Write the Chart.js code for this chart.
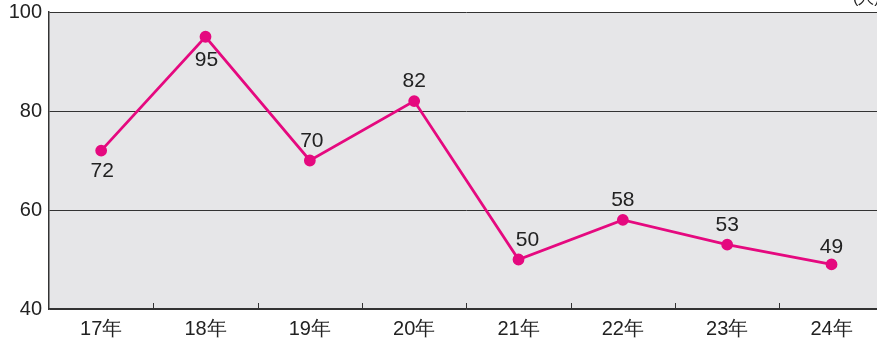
<!DOCTYPE html>
<html>
<head>
<meta charset="utf-8">
<script src="https://cdn.jsdelivr.net/npm/chart.js@4/dist/chart.umd.min.js"></script>
<style>
  html, body { margin: 0; padding: 0; background: #fff; overflow: hidden; }
  #wrap { width: 891px; height: 340px; }
</style>
</head>
<body>
<div id="wrap"><canvas id="grafico"></canvas></div>
<script>
const anos = ["17年", "18年", "19年", "20年", "21年", "22年", "23年", "24年"];
const valores = [72, 95, 70, 82, 50, 58, 53, 49];
// rótulo abaixo (true) ou acima (false) do ponto
const rotuloAbaixo = [true, true, false, false, false, false, false, false];
// ajuste fino dos rótulos [dx, dy]
const ajusteRotulo = [[1, 0], [1, 3], [2, 0], [0, 0], [9, 0], [0, 0], [0, 0], [0, 2]];
const ticksY = [40, 60, 80, 100];

const corLinha = "#e5097f";
const fonte = "'Liberation Sans', Arial, sans-serif";

// fundo cinza da área do gráfico
const fundoArea = {
    id: "fundoArea",
    beforeDraw(chart) {
        const { ctx, chartArea: a } = chart;
        ctx.save();
        ctx.fillStyle = "#e6e6e8";
        ctx.fillRect(a.left, a.top, a.right - a.left, a.bottom - a.top);
        ctx.restore();
    }
};

// pequenos traços entre as categorias, para dentro
const tracosX = {
    id: "tracosX",
    afterDraw(chart) {
        const { ctx, chartArea: a } = chart;
        const x = chart.scales.x;
        ctx.save();
        ctx.strokeStyle = "#333";
        ctx.lineWidth = 1;
        for (let i = 1; i < anos.length; i++) {
            const px = Math.round((x.getPixelForValue(i - 1) + x.getPixelForValue(i)) / 2) + 0.5;
            ctx.beginPath();
            ctx.moveTo(px, a.bottom);
            ctx.lineTo(px, a.bottom - 6);
            ctx.stroke();
        }
        // unidade no canto superior direito
        ctx.fillStyle = "#222";
        ctx.font = "16px " + fonte;
        ctx.textAlign = "left";
        ctx.textBaseline = "bottom";
        ctx.fillText("(人)", 853, 7);
        ctx.restore();
    }
};

// valores escritos junto aos pontos
const rotulos = {
    id: "rotulos",
    afterDatasetsDraw(chart) {
        const { ctx } = chart;
        const meta = chart.getDatasetMeta(0);
        ctx.save();
        ctx.fillStyle = "#222";
        ctx.font = "21px " + fonte;
        ctx.textAlign = "center";
        meta.data.forEach((p, i) => {
            const [dx, dy] = ajusteRotulo[i];
            if (rotuloAbaixo[i]) {
                ctx.textBaseline = "top";
                ctx.fillText(valores[i], p.x + dx, p.y + 10 + dy);
            } else {
                ctx.textBaseline = "bottom";
                ctx.fillText(valores[i], p.x + dx, p.y - 9 + dy);
            }
        });
        ctx.restore();
    }
};

new Chart(document.getElementById("grafico"), {
    type: "line",
    data: {
        labels: anos,
        datasets: [{
            data: valores,
            borderColor: corLinha,
            backgroundColor: corLinha,
            borderWidth: 2.8,
            pointRadius: 4.5,
            pointHoverRadius: 4.5,
            tension: 0
        }]
    },
    options: {
        responsive: true,
        maintainAspectRatio: false,
        animation: false,
        layout: { padding: { top: 0, right: 0, left: 0, bottom: 0 } },
        plugins: {
            legend: { display: false },
            tooltip: { enabled: false }
        },
        scales: {
            x: {
                offset: true,
                afterFit(scale) { scale.height = 31; },
                grid: { display: false, drawTicks: false },
                border: { display: true, color: "#333", width: 1.5 },
                ticks: {
                    color: "#222",
                    font: { family: fonte, size: 20 },
                    padding: 8
                }
            },
            y: {
                min: 40,
                max: 100,
                afterBuildTicks(scale) {
                    scale.ticks = ticksY.map(v => ({ value: v }));
                },
                afterFit(scale) {
                    scale.width = 49;
                    scale.paddingTop = 12;
                },
                grid: { color: "#333", lineWidth: 1, drawTicks: false },
                border: { display: true, color: "#333", width: 1.5 },
                ticks: {
                    color: "#222",
                    font: { family: fonte, size: 20 },
                    padding: 7
                }
            }
        }
    },
    plugins: [fundoArea, tracosX, rotulos]
});
</script>
</body>
</html>
